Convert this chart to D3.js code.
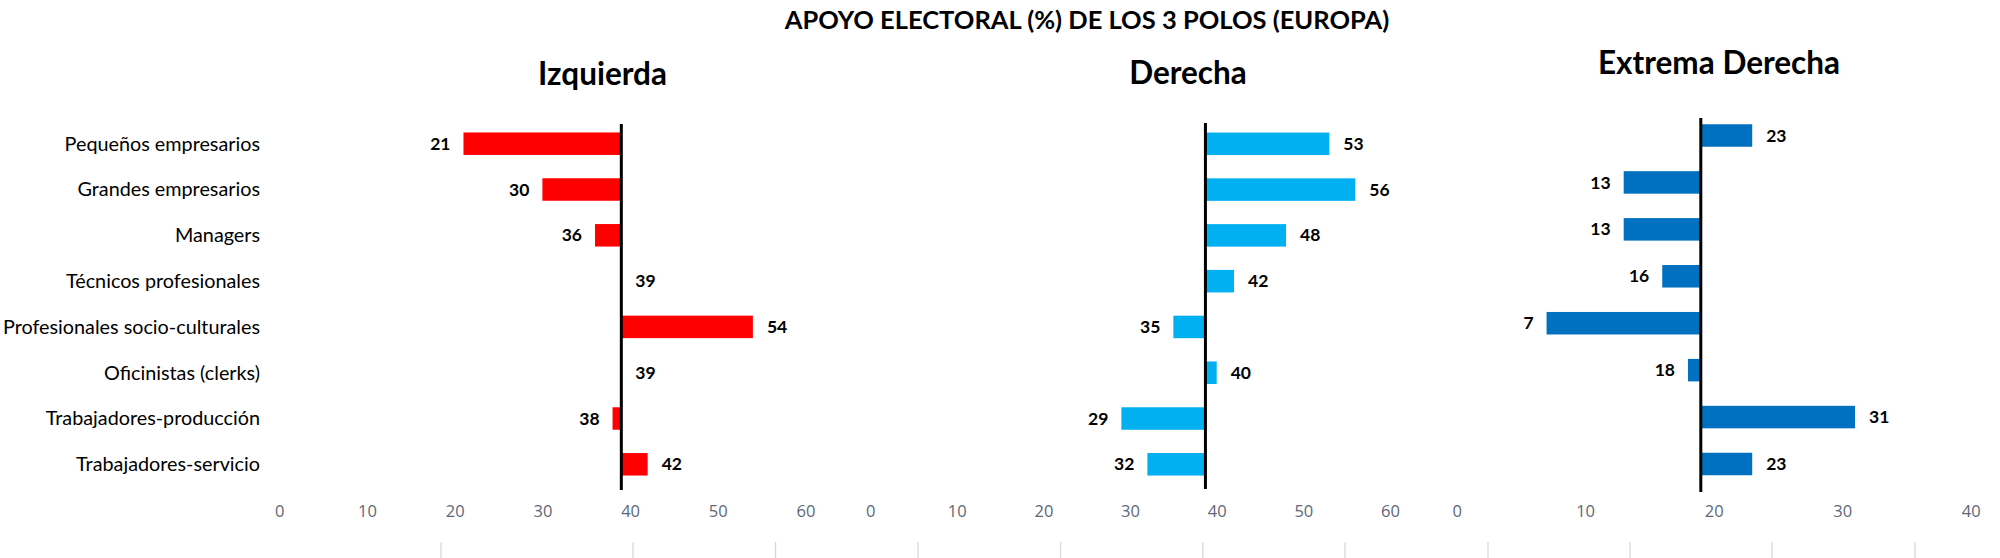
<!DOCTYPE html>
<html>
<head>
<meta charset="utf-8">
<script src="https://cdn.jsdelivr.net/npm/d3@7"></script>
<style>
  html, body { margin: 0; padding: 0; background: #fff; }
  svg { display: block; }
</style>
</head>
<body>
<svg id="chart" width="2000" height="558"></svg>
<script>
// ---------------- DATA ----------------
const title = "APOYO ELECTORAL (%) DE LOS 3 POLOS (EUROPA)";
const categories = [
  "Pequeños empresarios",
  "Grandes empresarios",
  "Managers",
  "Técnicos profesionales",
  "Profesionales socio-culturales",
  "Oficinistas (clerks)",
  "Trabajadores-producción",
  "Trabajadores-servicio"
];
const panelNames = ["Izquierda", "Derecha", "Extrema Derecha"];
const izquierda = [21, 30, 36, 39, 54, 39, 38, 42];
const derecha = [53, 56, 48, 42, 35, 40, 29, 32];
const extremaDerecha = [23, 13, 13, 16, 7, 18, 31, 23];
const baselineValues = [39, 38.7, 19];
const ticksIzquierda = [0, 10, 20, 30, 40, 50, 60];
const ticksDerecha = [0, 10, 20, 30, 40, 50, 60];
const ticksExtrema = [0, 10, 20, 30, 40];

// ---------------- LAYOUT / STYLE ----------------
const svg = d3.select("#chart");
const colors = ["#FF0000", "#00B0F0", "#0070C0"];
const panels = [
  { name: panelNames[0], values: izquierda, base: baselineValues[0], ticks: ticksIzquierda,
    domain: [0, 60], range: [279.3, 805.5], yRange: [143.7, 464.3], lineY: [124, 490],
    titleX: 602.5, titleY: 85, color: colors[0] },
  { name: panelNames[1], values: derecha, base: baselineValues[1], ticks: ticksDerecha,
    domain: [0, 60], range: [870.1, 1390], yRange: [143.8, 464.3], lineY: [123, 489],
    titleX: 1188, titleY: 84, color: colors[1] },
  { name: panelNames[2], values: extremaDerecha, base: baselineValues[2], ticks: ticksExtrema,
    domain: [0, 40], range: [1456.6, 1970.7], yRange: [135.5, 464.0], lineY: [118, 492],
    titleX: 1719, titleY: 74, color: colors[2] }
];
const barH = 22.5;
const labelFont = "Lato, 'Open Sans', sans-serif";

// Main title
svg.append("text")
  .attr("x", 1087).attr("y", 29)
  .attr("text-anchor", "middle")
  .attr("font-family", labelFont)
  .attr("font-weight", "bold")
  .attr("font-size", 25.5)
  .attr("fill", "#000")
  .text(title);

// Category labels (left)
const yCat = d3.scalePoint().domain(categories).range(panels[0].yRange);
svg.append("g").selectAll("text")
  .data(categories).join("text")
  .attr("x", 260)
  .attr("y", d => yCat(d))
  .attr("dy", "0.35em")
  .attr("text-anchor", "end")
  .attr("font-family", labelFont)
  .attr("font-size", 19.8)
  .attr("fill", "#000")
  .text(d => d);

panels.forEach(p => {
  const x = d3.scaleLinear().domain(p.domain).range(p.range);
  const y = d3.scalePoint().domain(categories).range(p.yRange);
  const g = svg.append("g");
  const rows = categories.map((c, i) => ({ c, v: p.values[i] }));

  // panel title
  g.append("text")
    .attr("x", p.titleX).attr("y", p.titleY)
    .attr("text-anchor", "middle")
    .attr("font-family", labelFont)
    .attr("font-weight", "bold")
    .attr("font-size", 31.5)
    .attr("fill", "#000")
    .text(p.name);

  // bars
  g.selectAll("rect")
    .data(rows).join("rect")
    .attr("x", d => Math.min(x(d.v), x(p.base)))
    .attr("y", d => y(d.c) - barH / 2)
    .attr("width", d => Math.abs(x(d.v) - x(p.base)))
    .attr("height", barH)
    .attr("fill", p.color);

  // baseline
  g.append("line")
    .attr("x1", x(p.base)).attr("x2", x(p.base))
    .attr("y1", p.lineY[0]).attr("y2", p.lineY[1])
    .attr("stroke", "#000").attr("stroke-width", 3);

  // value labels
  g.selectAll("text.val")
    .data(rows).join("text")
    .attr("class", "val")
    .attr("x", d => d.v >= p.base ? x(d.v) + 14 : x(d.v) - 13)
    .attr("y", d => y(d.c))
    .attr("dy", "0.35em")
    .attr("text-anchor", d => d.v >= p.base ? "start" : "end")
    .attr("font-family", labelFont)
    .attr("font-weight", "bold")
    .attr("font-size", 17.5)
    .attr("fill", "#000")
    .text(d => d.v);

  // bottom axis (tick labels only)
  const axis = d3.axisBottom(x).tickValues(p.ticks).tickSize(0).tickPadding(0);
  const ag = g.append("g").attr("transform", "translate(0,505)").call(axis);
  ag.select(".domain").remove();
  ag.selectAll("text")
    .attr("font-family", "'Open Sans', sans-serif")
    .attr("font-size", 16.5)
    .attr("fill", "#5E6878")
    .attr("dy", "0.71em");
});

// faint separators at the very bottom
const sepX = [441, 633, 775.5, 918, 1060.6, 1202.8, 1345, 1488, 1630, 1772, 1915];
svg.append("g").selectAll("line")
  .data(sepX).join("line")
  .attr("x1", d => d).attr("x2", d => d)
  .attr("y1", 542).attr("y2", 558)
  .attr("stroke", "#D9D9D9").attr("stroke-width", 1.3);
</script>
</body>
</html>
